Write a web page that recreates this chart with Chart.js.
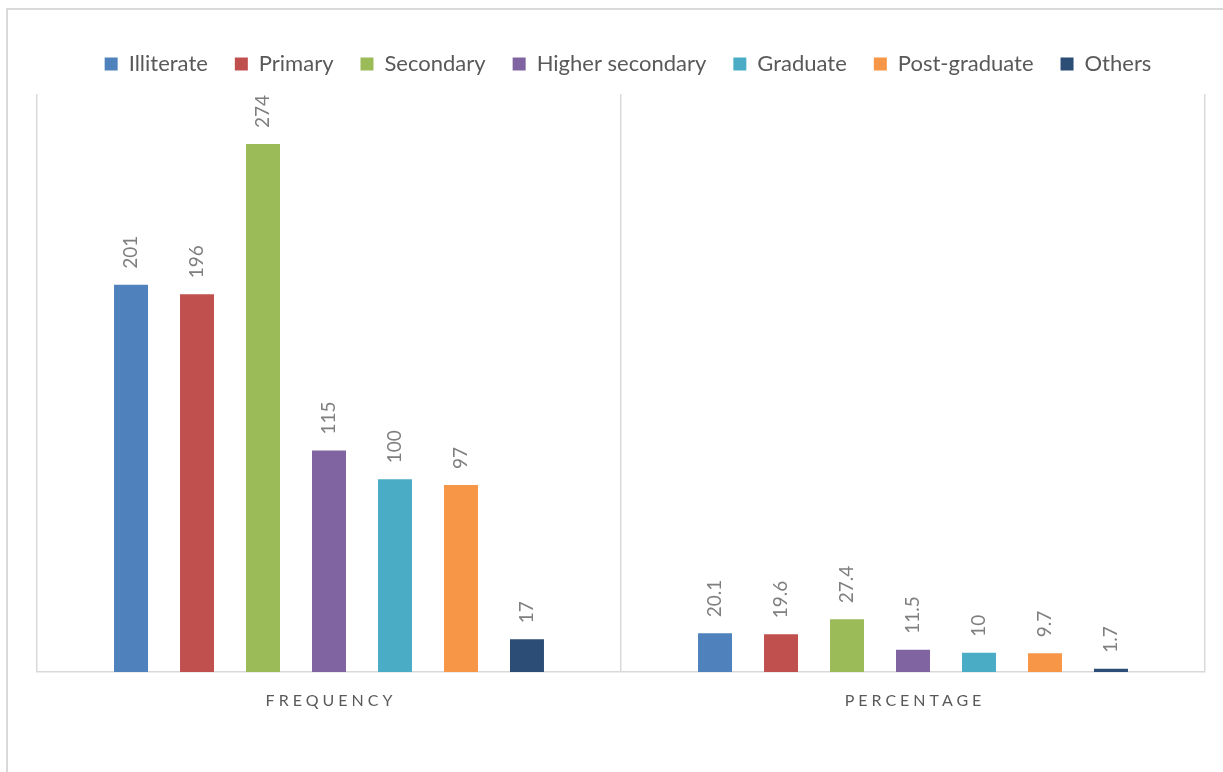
<!DOCTYPE html>
<html>
<head>
<meta charset="utf-8">
<script src="https://cdn.jsdelivr.net/npm/chart.js@4.4.1/dist/chart.umd.min.js"></script>
<style>
  html, body { margin: 0; padding: 0; background: #ffffff; }
  #wrap { position: relative; width: 1223px; height: 772px; }
</style>
</head>
<body>
<div id="wrap"><canvas id="chart" width="1223" height="772"></canvas></div>
<script>
// Education level: count of respondents and share in percent
const categories = ['FREQUENCY', 'PERCENTAGE'];
const seriesNames = ['Illiterate', 'Primary', 'Secondary', 'Higher secondary', 'Graduate', 'Post-graduate', 'Others'];
const illiterate = [201, 20.1];
const primary = [196, 19.6];
const secondary = [274, 27.4];
const higherSecondary = [115, 11.5];
const graduate = [100, 10];
const postGraduate = [97, 9.7];
const others = [17, 1.7];
const seriesColors = ['#4f81bd', '#c0504d', '#9bbb59', '#8064a2', '#4bacc6', '#f79646', '#2c4d75'];

const seriesValues = [illiterate, primary, secondary, higherSecondary, graduate, postGraduate, others];
const FONT = 'Lato, "Open Sans", sans-serif';

// Light frame around the whole chart
const framePlugin = {
  id: 'frame',
  beforeDraw(chart) {
    const ctx = chart.ctx;
    ctx.save();
    ctx.strokeStyle = '#d9d9d9';
    ctx.lineWidth = 2;
    ctx.strokeRect(7, 9, 1400, 1000);
    ctx.restore();
  }
};

// Extra room between the legend and the plot, legend nudged right
const legendGapPlugin = {
  id: 'legendGap',
  beforeInit(chart) {
    const legend = chart.legend;
    const fit = legend.fit;
    legend.fit = function () {
      fit.call(this);
      this.height += 10;
    };
    const draw = legend.draw;
    legend.draw = function () {
      const ctx = this.ctx;
      ctx.save();
      ctx.translate(7, 1);
      draw.call(this);
      ctx.restore();
    };
  }
};

// Rotated value labels above each bar
const valueLabelPlugin = {
  id: 'valueLabels',
  afterDatasetsDraw(chart) {
    const ctx = chart.ctx;
    ctx.save();
    ctx.font = '19px ' + FONT;
    ctx.fillStyle = '#7f7f7f';
    ctx.textAlign = 'left';
    ctx.textBaseline = 'middle';
    chart.data.datasets.forEach((ds, i) => {
      const meta = chart.getDatasetMeta(i);
      if (!chart.isDatasetVisible(i)) return;
      meta.data.forEach((bar, j) => {
        ctx.save();
        ctx.translate(bar.x, bar.y - 16);
        ctx.rotate(-Math.PI / 2);
        ctx.fillText(String(ds.data[j]), 0, 0);
        ctx.restore();
      });
    });
    ctx.restore();
  }
};

// Spaced-out category names under the axis
const categoryLabelPlugin = {
  id: 'categoryLabels',
  afterDraw(chart) {
    const ctx = chart.ctx;
    const x = chart.scales.x;
    ctx.save();
    ctx.font = '16px ' + FONT;
    ctx.fillStyle = '#595959';
    ctx.textAlign = 'center';
    ctx.textBaseline = 'middle';
    if ('letterSpacing' in ctx) ctx.letterSpacing = '4px';
    chart.data.labels.forEach((label, i) => {
      ctx.fillText(label, x.getPixelForTick(i) + 2, chart.chartArea.bottom + 29);
    });
    ctx.restore();
  }
};

new Chart(document.getElementById('chart'), {
  type: 'bar',
  data: {
    labels: categories,
    datasets: seriesNames.map((name, i) => ({
      label: name,
      data: seriesValues[i],
      backgroundColor: seriesColors[i],
      borderWidth: 0,
      barPercentage: 0.515,
      categoryPercentage: 0.791
    }))
  },
  options: {
    responsive: false,
    animation: false,
    devicePixelRatio: 1,
    layout: { padding: { left: 37, right: 18, top: 25, bottom: 0 } },
    plugins: {
      legend: {
        position: 'top',
        labels: {
          font: { family: FONT, size: 22 },
          color: '#595959',
          boxWidth: 13,
          boxHeight: 13,
          padding: 27
        }
      },
      tooltip: { enabled: false }
    },
    scales: {
      x: {
        offset: true,
        grid: { display: true, offset: true, color: '#d9d9d9', lineWidth: 1.5, drawTicks: false },
        border: { display: true, color: '#d9d9d9', width: 1.5 },
        ticks: { color: 'rgba(0,0,0,0)', font: { family: FONT, size: 15 }, padding: 41 }
      },
      y: {
        display: false,
        min: 0,
        max: 300
      }
    }
  },
  plugins: [framePlugin, legendGapPlugin, valueLabelPlugin, categoryLabelPlugin]
});
</script>
</body>
</html>
